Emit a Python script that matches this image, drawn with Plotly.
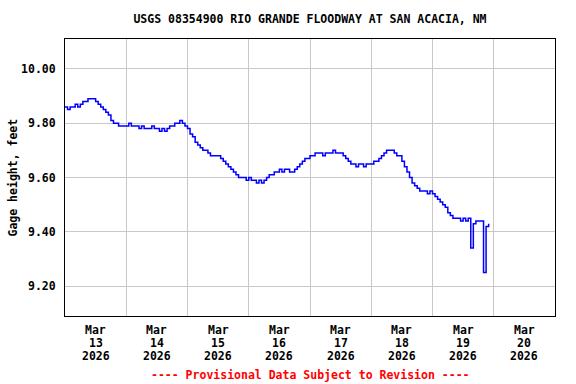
import pandas as pd
import plotly.graph_objects as go

# Hourly gage height readings starting 2026-03-13 00:00 (feet)
start_time = "2026-03-13 00:00"
gage_height = [
    9.86, 9.85, 9.86, 9.86, 9.87, 9.86, 9.87, 9.88, 9.88, 9.89, 9.89, 9.89,
    9.88, 9.87, 9.86, 9.85, 9.84, 9.83, 9.81, 9.80, 9.80, 9.79, 9.79, 9.79,
    9.79, 9.80, 9.79, 9.79, 9.79, 9.78, 9.79, 9.78, 9.78, 9.78, 9.79, 9.78,
    9.78, 9.77, 9.78, 9.77, 9.78, 9.79, 9.79, 9.80, 9.80, 9.81, 9.80, 9.79,
    9.78, 9.76, 9.75, 9.73, 9.72, 9.71, 9.70, 9.70, 9.69, 9.68, 9.68, 9.68,
    9.68, 9.67, 9.66, 9.65, 9.64, 9.63, 9.62, 9.61, 9.60, 9.60, 9.60, 9.59,
    9.60, 9.59, 9.59, 9.58, 9.59, 9.58, 9.59, 9.60, 9.61, 9.61, 9.62, 9.62,
    9.63, 9.62, 9.63, 9.63, 9.62, 9.62, 9.63, 9.64, 9.65, 9.66, 9.67, 9.67,
    9.68, 9.68, 9.69, 9.69, 9.69, 9.68, 9.69, 9.69, 9.69, 9.70, 9.69, 9.69,
    9.69, 9.68, 9.67, 9.66, 9.65, 9.65, 9.64, 9.65, 9.65, 9.64, 9.65, 9.65,
    9.65, 9.66, 9.66, 9.67, 9.68, 9.69, 9.70, 9.70, 9.70, 9.69, 9.68, 9.68,
    9.66, 9.64, 9.62, 9.60, 9.58, 9.57, 9.56, 9.55, 9.55, 9.55, 9.54, 9.55,
    9.54, 9.53, 9.52, 9.51, 9.50, 9.49, 9.47, 9.46, 9.45, 9.45, 9.45, 9.44,
    9.45, 9.44, 9.45, 9.34, 9.43, 9.44, 9.44, 9.44, 9.25, 9.42, 9.43,
]
times = pd.date_range(start_time, periods=len(gage_height), freq="h")

tick_days = ["2026-03-13", "2026-03-14", "2026-03-15", "2026-03-16",
             "2026-03-17", "2026-03-18", "2026-03-19", "2026-03-20"]
tick_month = ["Mar"] * 8
tick_daynum = ["13", "14", "15", "16", "17", "18", "19", "20"]
tick_year = ["2026"] * 8
y_ticks = [9.20, 9.40, 9.60, 9.80, 10.00]
y_labels = ["9.20", "9.40", "9.60", "9.80", "10.00"]

tick_positions = [pd.Timestamp(d) + pd.Timedelta(hours=12) for d in tick_days]

FONT = "DejaVu Sans Mono"
TICKFONT = dict(family=FONT, size=11.5, color="black", weight="bold")

fig = go.Figure()
fig.add_trace(go.Scatter(
    x=times, y=gage_height, mode="lines",
    line=dict(color="#0000ff", width=1.5, shape="hv"),
    showlegend=False, hoverinfo="x+y",
))

annotations = []
# x tick labels, three rows per tick (month / day / year)
for rows, ypix in ((tick_month, 330), (tick_daynum, 343), (tick_year, 356)):
    for pos, txt in zip(tick_positions, rows):
        annotations.append(dict(
            text=txt, x=pos, y=-(ypix - 316) / 277, xref="x", yref="paper",
            xanchor="center", yanchor="middle", showarrow=False,
            font=TICKFONT,
        ))
# y axis title
annotations.append(dict(
    text="Gage height, feet", x=-(65 - 12) / 490, y=0.5,
    xref="paper", yref="paper", textangle=-90,
    xanchor="center", yanchor="middle", showarrow=False, font=TICKFONT,
))
# provisional data note
annotations.append(dict(
    text="---- Provisional Data Subject to Revision ----",
    x=(310 - 65) / 490, y=-(375 - 316) / 277, xref="paper", yref="paper",
    xanchor="center", yanchor="middle", showarrow=False,
    font=dict(family=FONT, size=11.5, color="red", weight="bold"),
))

fig.update_layout(
    width=576, height=384,
    margin=dict(l=65, r=21, t=39, b=68, autoexpand=False),
    paper_bgcolor="white", plot_bgcolor="white",
    font=TICKFONT,
    title=dict(
        text="USGS 08354900 RIO GRANDE FLOODWAY AT SAN ACACIA, NM",
        x=310 / 576, xanchor="center", y=1 - 19 / 384, yanchor="middle",
        yref="container",
        font=dict(family=FONT, size=11.5, color="black", weight="bold"),
    ),
    xaxis=dict(
        range=["2026-03-13 00:00", "2026-03-21 00:00"],
        tickmode="array", tickvals=tick_positions, ticktext=[""] * 8,
        showticklabels=False, automargin=False,
        showgrid=False, ticks="", showline=True, linecolor="black",
        linewidth=1, mirror=True, zeroline=False,
        minor=dict(showgrid=True, gridcolor="#c8c8c8", gridwidth=1,
                   dtick=86400000, tick0="2026-03-13", ticks=""),
    ),
    yaxis=dict(
        range=[9.09, 10.11], automargin=False,
        tickmode="array", tickvals=y_ticks, ticktext=y_labels,
        showgrid=True, gridcolor="#c8c8c8", gridwidth=1,
        showline=True, linecolor="black", linewidth=1, mirror=True,
        zeroline=False, ticks="outside", ticklen=6, tickcolor="rgba(0,0,0,0)",
        tickfont=TICKFONT,
    ),
    annotations=annotations,
)
fig.write_html("out.html", config={"displayModeBar": False},
               post_script="document.body.style.margin='0px';")
